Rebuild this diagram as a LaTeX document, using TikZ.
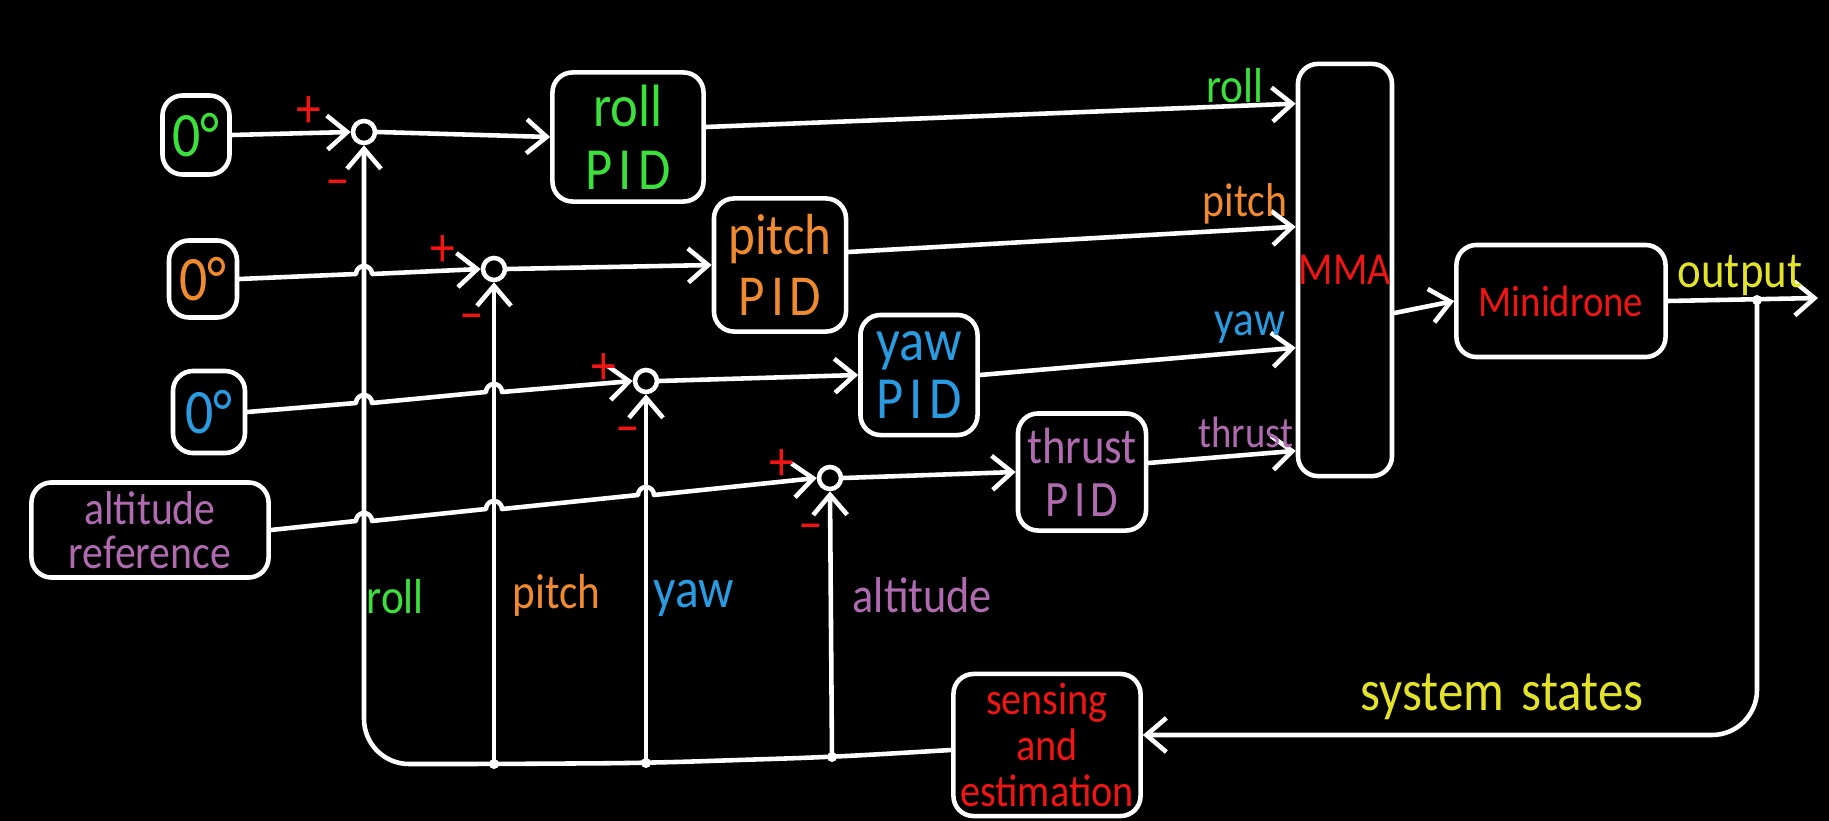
\documentclass[tikz,border=0pt]{standalone}
\usepackage{fontspec}
\setmainfont{Carlito}[FakeStretch=0.88]
\usetikzlibrary{arrows.meta,calc}

\definecolor{cgreen}{HTML}{3CE03C}
\definecolor{corange}{HTML}{F08A30}
\definecolor{cblue}{HTML}{2A9BE0}
\definecolor{cpurple}{HTML}{B06AB0}
\definecolor{cred}{HTML}{F01414}
\definecolor{cyellow}{HTML}{E2E22A}

\newcommand{\tsz}[2]{\fontsize{#1}{#2}\selectfont}
\newcommand{\pidtxt}{P\kern0.1em I\kern0.1em D}

\tikzset{
  wire/.style={draw=white, line width=1.3pt, line cap=round, line join=round},
  arr/.style={wire, -{Straight Barb[length=2mm,width=3.4mm,line width=1.3pt]}},
  blk/.style={draw=white, line width=1.3pt, rounded corners=0.2cm, align=center, inner sep=0pt},
  sumc/.style={draw=white, line width=1.3pt, circle, minimum size=0.22cm, inner sep=0pt},
  sgn/.style={text=cred, inner sep=0pt, font=\tsz{16}{16}},
  lbl/.style={inner sep=0pt},
  dot/.style={fill=white},
}

\begin{document}
\begin{tikzpicture}[x=0.01cm, y=-0.01cm]
\useasboundingbox (0,0) rectangle (1829,821);
\fill[black] (0,0) rectangle (1829,821);

% reference inputs
\node[blk, minimum width=0.67cm, minimum height=0.79cm, text=cgreen, font=\tsz{18}{18}] (r0) at (196,135) {0°};
\node[blk, minimum width=0.68cm, minimum height=0.77cm, text=corange, font=\tsz{18}{18}] (p0) at (203,279) {0°};
\node[blk, minimum width=0.72cm, minimum height=0.82cm, text=cblue, font=\tsz{18}{18}] (y0) at (209,412) {0°};
\node[blk, minimum width=2.37cm, minimum height=0.95cm, text=cpurple, font=\tsz{13.5}{12.5}] (alt) at (150,530) {altitude\\reference};

% summing junctions
\node[sumc] (s1) at (364,132) {};
\node[sumc] (s2) at (494,269) {};
\node[sumc] (s3) at (646,381) {};
\node[sumc] (s4) at (830,478) {};

% controllers
\node[blk, minimum width=1.51cm, minimum height=1.29cm, text=cgreen, font=\tsz{17}{18}] (rollpid) at (628,137) {roll\\\pidtxt};
\node[blk, minimum width=1.32cm, minimum height=1.33cm, text=corange, font=\tsz{16.5}{17.5}] (pitchpid) at (780,265) {pitch\\\pidtxt};
\node[blk, minimum width=1.17cm, minimum height=1.20cm, text=cblue, font=\tsz{17}{16.5}] (yawpid) at (919,375) {yaw\\\pidtxt};
\node[blk, minimum width=1.28cm, minimum height=1.17cm, text=cpurple, font=\tsz{14.5}{15}] (thrpid) at (1082,472) {thrust\\\pidtxt};

% mixer, plant, sensing
\node[blk, minimum width=0.94cm, minimum height=4.12cm, text=cred, font=\tsz{13}{13}] (mma) at (1345,270) {MMA};
\node[blk, minimum width=2.09cm, minimum height=1.12cm, text=cred, font=\tsz{12.5}{12.5}] (mini) at (1561,301) {Minidrone};
\node[blk, minimum width=1.87cm, minimum height=1.42cm, text=cred, font=\tsz{13}{13}] (sens) at (1047,745) {sensing\\and\\estimation};

% reference lines into the junctions (with hops over the feedback lines)
\draw[arr] (r0.east) -- (s1.west);
\draw[arr] (p0.east) -- (356,274) arc[start angle=180, end angle=0, radius=0.08cm] -- (s2.west);
\draw[arr] (y0.east) -- (356,403) arc[start angle=180, end angle=0, radius=0.08cm]
                     -- (486,392) arc[start angle=180, end angle=0, radius=0.08cm] -- (s3.west);
\draw[arr] (alt.east) -- (356,521) arc[start angle=180, end angle=0, radius=0.08cm]
                      -- (486,509) arc[start angle=180, end angle=0, radius=0.08cm]
                      -- (638,495) arc[start angle=180, end angle=0, radius=0.08cm] -- (s4.west);

% errors into the controllers
\draw[arr] (s1.east) -- (rollpid.west);
\draw[arr] (s2.east) -- (pitchpid.west);
\draw[arr] (s3.east) -- (yawpid.west);
\draw[arr] (s4.east) -- (thrpid.west);

% controller outputs into the mixer
\draw[arr] ([yshift=0.1cm]rollpid.east) -- ([yshift=-0.42cm]mma.north west);
\draw[arr] ([yshift=0.13cm]pitchpid.east) -- ([yshift=-1.65cm]mma.north west);
\draw[arr] (yawpid.east) -- ([yshift=-2.86cm]mma.north west);
\draw[arr] ([yshift=0.09cm]thrpid.east) -- ([yshift=-3.89cm]mma.north west);
\node[lbl, text=cgreen, anchor=east, font=\tsz{14}{14}] (lroll) at (1264,86) {roll};
\node[lbl, text=corange, anchor=east, font=\tsz{13.5}{13.5}] (lpitch) at (1288,204) {pitch};
\node[lbl, text=cblue, anchor=east, font=\tsz{14}{14}] (lyaw) at (1286,328) {yaw};
\node[lbl, text=cpurple, anchor=east, font=\tsz{12.5}{12.5}] (lthr) at (1294,432) {thrust};

% mixer to plant, plant output
\draw[arr] ([yshift=-0.43cm]mma.east) -- (mini.west);
\coordinate (oj) at (1757,300);
\coordinate (outend) at (1818,298);
\draw[arr] (mini.east) -- (outend);
\fill[dot] (oj) circle (0.05cm);
\node[lbl, text=cyellow, font=\tsz{14.5}{14.5}] (lout) at (1740,275) {output};

% feedback path
\draw[arr, rounded corners=0.45cm] (oj) |- ([yshift=0.1cm]sens.east);
\node[lbl, text=cyellow, font=\tsz{16.5}{16.5}] (lstates) at (1502,697) {system\hspace{0.3em}states};

\coordinate (d2) at (494,764);
\coordinate (d3) at (646,763);
\coordinate (d4) at (832,757);
\draw[arr, rounded corners=0.45cm] ([yshift=-0.05cm]sens.west) -- (d4) -- (d3) -- (d2) -| (s1.south);
\draw[arr] (d2) -- (s2.south);
\draw[arr] (d3) -- (s3.south);
\draw[arr] (d4) -- (s4.south);
\fill[dot] (d2) circle (0.05cm);
\fill[dot] (d3) circle (0.05cm);
\fill[dot] (d4) circle (0.05cm);

\node[lbl, text=cgreen, anchor=west, font=\tsz{14}{14}] (vroll) at (366,597) {roll};
\node[lbl, text=corange, anchor=west, font=\tsz{14}{14}] (vpitch) at (512,595) {pitch};
\node[lbl, text=cblue, anchor=west, font=\tsz{16}{16}] (vyaw) at (653,598) {yaw};
\node[lbl, text=cpurple, anchor=west, font=\tsz{14.3}{14.3}] (valt) at (852,595) {altitude};

% signs at the junctions
\node[sgn] (s1p) at ($(s1)+(-55,-20)$) {+};
\node[sgn] (s1m) at ($(s1)+(-26,57)$) {–};
\node[sgn] (s2p) at ($(s2)+(-51,-18)$) {+};
\node[sgn] (s2m) at ($(s2)+(-22,54)$) {–};
\node[sgn] (s3p) at ($(s3)+(-42,-12)$) {+};
\node[sgn] (s3m) at ($(s3)+(-18,55)$) {–};
\node[sgn] (s4p) at ($(s4)+(-48,-13)$) {+};
\node[sgn] (s4m) at ($(s4)+(-19,55)$) {–};
\end{tikzpicture}
\end{document}
